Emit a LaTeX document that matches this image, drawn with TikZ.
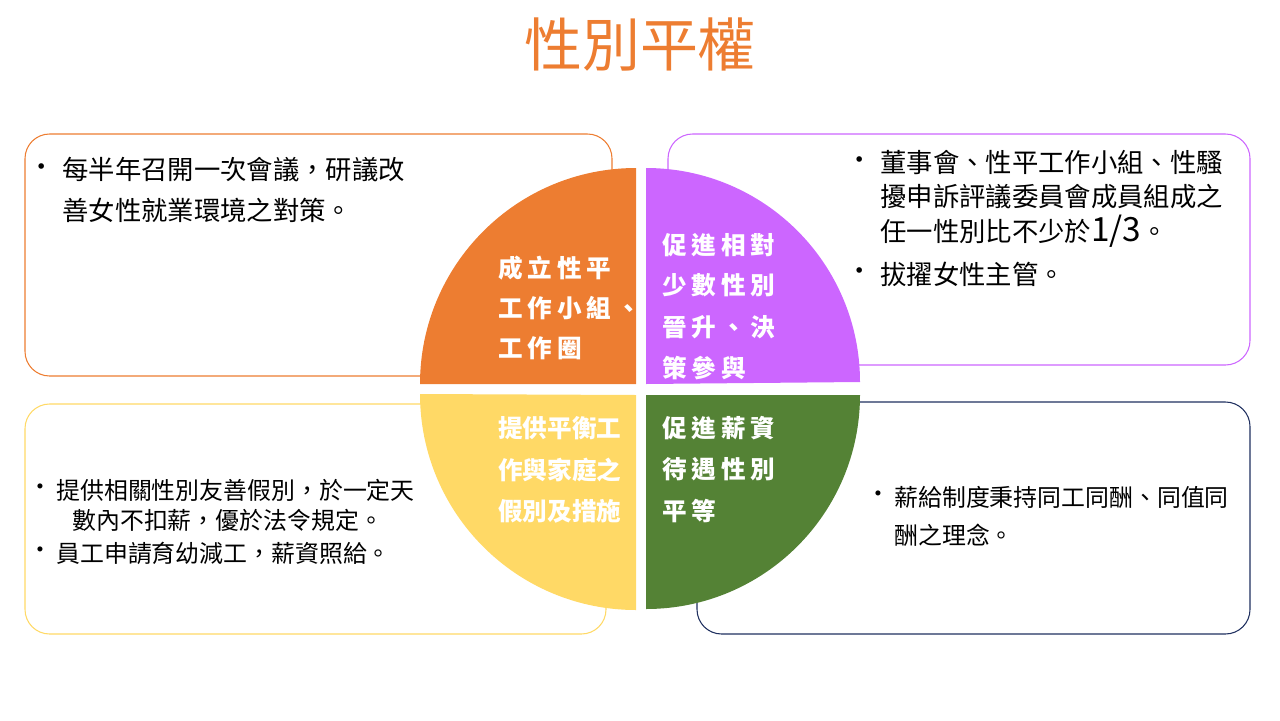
\documentclass[tikz,border=0pt]{standalone}
\usepackage{fontspec}
\setmainfont{Noto Sans CJK TC}
\definecolor{cor}{HTML}{ED7D31}
\definecolor{cpu}{HTML}{CC66FF}
\definecolor{cye}{HTML}{FFD966}
\definecolor{cgr}{HTML}{548235}
\definecolor{cnv}{HTML}{1F2F5F}
\begin{document}
\begin{tikzpicture}[x=0.02cm,y=-0.02cm,
 box/.style={rounded corners=14pt,line width=0.6pt},
 body/.style={anchor=west,inner sep=0,font=\fontsize{15}{17}\selectfont,text=black},
 bodys/.style={anchor=west,inner sep=0,font=\fontsize{13.6}{16}\selectfont,text=black},
 bul/.style={anchor=center,inner sep=0,font=\fontsize{15}{17}\selectfont},
 ql/.style={anchor=west,inner sep=0,text=white,font=\fontsize{14}{16}\selectfont\bfseries},
 qls/.style={anchor=west,inner sep=0,text=white,font=\fontsize{14}{16}\selectfont\bfseries\addfontfeature{LetterSpace=20}}]
\useasboundingbox (0,0) rectangle (1280,720);
\node[text=cor,font=\fontsize{33}{38}\selectfont] (title) at (640,45) {性別平權};
\draw[box,cor] (25,134) rectangle (612,376);
\draw[box,cpu] (668,134) rectangle (1250,365);
\draw[box,cye] (25,404) rectangle (606,634);
\draw[box,cnv] (697,402) rectangle (1250,634);
\fill[cor] (636,384) -- (420,384) arc[start angle=180,end angle=270,radius=216] -- cycle;
\fill[cpu] (646,384) -- (646,168) arc[start angle=270,end angle=360,radius=214] -- cycle;
\fill[cye] (636,395) -- (636,610) arc[start angle=90,end angle=180,radius=216] -- cycle;
\fill[cgr] (646,395) -- (860,395) arc[start angle=0,end angle=90,radius=214] -- cycle;
% quadrant labels
\node[qls] (o1) at (498,268) {成立性平};
\node[qls] (o2) at (498,308) {工作小組、};
\node[qls] (o3) at (498,348) {工作圈};
\node[qls] (p1) at (662,245) {促進相對};
\node[qls] (p2) at (662,285) {少數性別};
\node[qls] (p3) at (662,327) {晉升、決};
\node[qls] (p4) at (662,368) {策參與};
\node[ql] (y1) at (498,428) {提供平衡工};
\node[ql] (y2) at (498,470) {作與家庭之};
\node[ql] (y3) at (498,511) {假別及措施};
\node[qls] (g1) at (662,428) {促進薪資};
\node[qls] (g2) at (662,469) {待遇性別};
\node[qls] (g3) at (662,511) {平等};
% top-left
\node[bul] (b1) at (42,170) {•};
\node[body] (t1) at (62,170) {每半年召開一次會議，研議改};
\node[body] (t2) at (62,210) {善女性就業環境之對策。};
% top-right
\node[bul] (b2) at (860,163) {•};
\node[body] (r1) at (880,163) {董事會、性平工作小組、性騷};
\node[body] (r2) at (880,197) {擾申訴評議委員會成員組成之};
\node[body] (r3) at (880,231) {任一性別比不少於{\fontsize{19}{20}\selectfont 1/3}。};
\node[bul] (b3) at (860,274) {•};
\node[body] (r4) at (880,274) {拔擢女性主管。};
% bottom-left
\node[bul,font=\fontsize{13.6}{16}\selectfont] (b4) at (40,490) {•};
\node[bodys] (l1) at (56,490) {提供相關性別友善假別，於一定天};
\node[bodys] (l2) at (72,520) {數內不扣薪，優於法令規定。};
\node[bul,font=\fontsize{13.6}{16}\selectfont] (b5) at (40,553) {•};
\node[bodys] (l3) at (56,553) {員工申請育幼減工，薪資照給。};
% bottom-right
\node[bul,font=\fontsize{13.6}{16}\selectfont] (b6) at (878,497) {•};
\node[bodys] (g4) at (894,497) {薪給制度秉持同工同酬、同值同};
\node[bodys] (g5) at (894,535) {酬之理念。};
\end{tikzpicture}
\end{document}
